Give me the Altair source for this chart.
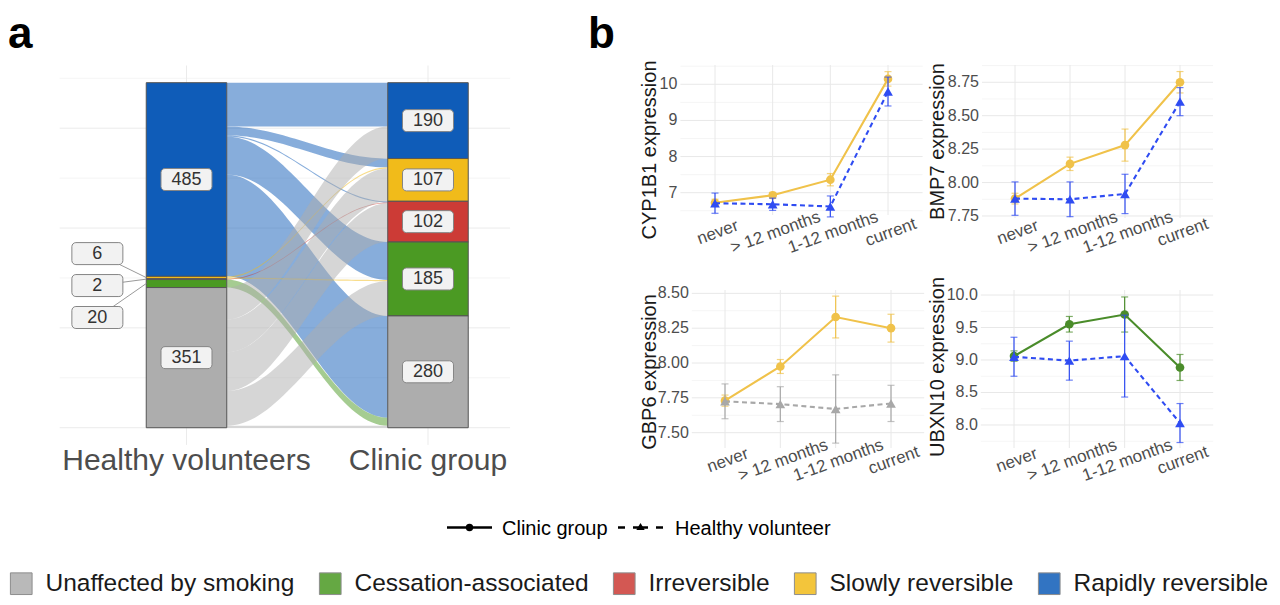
import math
import altair as alt
import numpy as np
import pandas as pd

FONT = "Liberation Sans"

# ---------------- data: panel a (alluvial) ----------------
categories = ["Unaffected by smoking", "Cessation-associated", "Irreversible",
              "Slowly reversible", "Rapidly reversible"]
category_colors = ["#adadad", "#4b9a23", "#cc3b36", "#f1bb1a", "#0f5cb8"]
stack_top_down = ["Rapidly reversible", "Slowly reversible", "Irreversible",
                  "Cessation-associated", "Unaffected by smoking"]
group_names = ["Healthy volunteers", "Clinic group"]
hv_counts = [351, 20, 2, 6, 485]
clinic_counts = [280, 185, 102, 107, 190]

flow_source = (["Rapidly reversible"] * 5 + ["Slowly reversible"] * 2 + ["Irreversible"]
               + ["Cessation-associated"] + ["Unaffected by smoking"] * 5)
flow_target = ["Rapidly reversible", "Slowly reversible", "Irreversible", "Cessation-associated", "Unaffected by smoking",
               "Slowly reversible", "Cessation-associated",
               "Irreversible",
               "Unaffected by smoking",
               "Rapidly reversible", "Slowly reversible", "Irreversible", "Cessation-associated", "Unaffected by smoking"]
flow_value = [110, 22, 3, 95, 255, 3, 3, 2, 20, 80, 82, 97, 87, 5]

# ---------------- data: panel b (expression) ----------------
stages = ["never", "> 12 months", "1-12 months", "current"]
genes = ["CYP1B1", "BMP7", "GBP6", "UBXN10"]
cyp1b1_clinic = [6.72, 6.93, 7.36, 10.15]
cyp1b1_clinic_se = [0.10, 0.08, 0.17, 0.20]
cyp1b1_hv = [6.71, 6.68, 6.62, 9.80]
cyp1b1_hv_se = [0.28, 0.17, 0.29, 0.40]
bmp7_clinic = [7.88, 8.14, 8.28, 8.75]
bmp7_clinic_se = [0.04, 0.05, 0.12, 0.08]
bmp7_hv = [7.88, 7.875, 7.915, 8.605]
bmp7_hv_se = [0.125, 0.13, 0.147, 0.105]
gbp6_clinic = [7.73, 7.975, 8.33, 8.25]
gbp6_clinic_se = [0.04, 0.05, 0.15, 0.10]
gbp6_hv = [7.725, 7.705, 7.67, 7.71]
gbp6_hv_se = [0.125, 0.125, 0.245, 0.13]
ubxn10_clinic = [9.06, 9.55, 9.70, 8.885]
ubxn10_clinic_se = [0.08, 0.12, 0.27, 0.20]
ubxn10_hv = [9.05, 8.99, 9.06, 8.03]
ubxn10_hv_se = [0.30, 0.30, 0.63, 0.30]
gene_clinic_class = ["Slowly reversible", "Slowly reversible", "Slowly reversible", "Cessation-associated"]
gene_hv_class = ["Rapidly reversible", "Rapidly reversible", "Unaffected by smoking", "Rapidly reversible"]
line_colors = {"Slowly reversible": "#f0c24a", "Cessation-associated": "#4a8c2a",
               "Rapidly reversible": "#2f4cf2", "Unaffected by smoking": "#a8a8a8"}
legend_groups = ["Clinic group", "Healthy volunteer"]

one_row = pd.DataFrame({"_": [0]})

# ================= panel a =================
STRATUM_W = 1 / 3
XA = alt.Scale(domain=[0.475, 2.34], range=[51.7, 502.1], zero=False, nice=False)
YA = alt.Scale(domain=[-43, 907], range=[436.9, 57.5], zero=False, nice=False)
color_scale = alt.Scale(domain=categories, range=category_colors)
fill_legend = alt.Legend(
    orient="none", legendX=1, legendY=563, direction="horizontal", columns=5, title=None,
    symbolType="square", symbolSize=470, symbolStrokeColor="#7a7a7a", symbolStrokeWidth=1,
    symbolOpacity=0.85, labelFont=FONT, labelFontSize=24.5, labelColor="#1a1a1a",
    labelOffset=12, columnPadding=22, labelLimit=500)
rank = {c: i for i, c in enumerate(stack_top_down)}


def stratum_ranges(counts):
    cmap = dict(zip(categories, counts))
    top = sum(counts)
    res = {}
    for c in stack_top_down:
        res[c] = (top - cmap[c], top)
        top -= cmap[c]
    return res


left_r = stratum_ranges(hv_counts)
right_r = stratum_ranges(clinic_counts)
flows = list(zip(flow_source, flow_target, flow_value))

left_pos, right_pos = {}, {}
for c in stack_top_down:
    top = left_r[c][1]
    for s, t, v in sorted([f for f in flows if f[0] == c], key=lambda f: rank[f[1]]):
        left_pos[(s, t)] = (top - v, top)
        top -= v
    top = right_r[c][1]
    for s, t, v in sorted([f for f in flows if f[1] == c], key=lambda f: rank[f[0]]):
        right_pos[(s, t)] = (top - v, top)
        top -= v

x0f, x1f = 1 + STRATUM_W / 2, 2 - STRATUM_W / 2
rows = []
for k, (s, t, v) in enumerate(flows):
    lb, lt = left_pos[(s, t)]
    rb, rt = right_pos[(s, t)]
    for tt in np.linspace(0, 1, 41):
        w = (1 - math.cos(math.pi * tt)) / 2
        rows.append({"flow": k, "cat": s, "x": x0f + (x1f - x0f) * tt,
                     "ylo": lb + (rb - lb) * w, "yhi": lt + (rt - lt) * w})
flow_df = pd.DataFrame(rows)

strata_rows = []
for ai, rr in enumerate([left_r, right_r]):
    for c in stack_top_down:
        lo, hi = rr[c]
        strata_rows.append({"cat": c, "x0": ai + 1 - STRATUM_W / 2, "x1": ai + 1 + STRATUM_W / 2,
                            "y0": lo, "y1": hi, "n": hi - lo, "axis": ai})
strata_df = pd.DataFrame(strata_rows)

# labels (small strata on the left are repelled to the side)
lab_rows, conn_rows = [], []
small = strata_df[(strata_df.n < 30) & (strata_df.axis == 0)]
small_center = (small.y0.min() + small.y1.max()) / 2 - 9
REPEL_X = 1 - 0.369
REPEL_GAP = 80
k = 0
for _, r in strata_df.iterrows():
    cy = (r.y0 + r.y1) / 2
    if r.n < 30:
        ly = small_center + REPEL_GAP * (1 - k)
        k += 1
        lab_rows.append({"x": REPEL_X, "y": ly, "label": str(int(r.n))})
        conn_rows.append({"x": REPEL_X, "x2": r.x0, "y": ly, "y2": cy})
    else:
        lab_rows.append({"x": (r.x0 + r.x1) / 2, "y": cy, "label": str(int(r.n))})
lab_df = pd.DataFrame(lab_rows)
conn_df = pd.DataFrame(conn_rows)

ga_major = pd.DataFrame({"y": [0, 250, 500, 750], "x0": 0.475, "x1": 2.34})
ga_minor = pd.DataFrame({"y": [125, 375, 625, 875], "x0": 0.475, "x1": 2.34})
ga_vert = pd.DataFrame({"x": [1, 2], "y0": -43, "y1": 907})
axis_lab_df = pd.DataFrame({"x": [1, 2], "name": group_names})

A_X = lambda f: alt.X(f, scale=XA, axis=None)
A_Y = lambda f: alt.Y(f, scale=YA, axis=None)

sankey = alt.layer(
    alt.Chart(ga_minor).mark_rule(color="#efefef", strokeWidth=0.7).encode(x=A_X("x0:Q"), x2="x1:Q", y=A_Y("y:Q")),
    alt.Chart(ga_major).mark_rule(color="#ebebeb", strokeWidth=1).encode(x=A_X("x0:Q"), x2="x1:Q", y=A_Y("y:Q")),
    alt.Chart(ga_vert).mark_rule(color="#ebebeb", strokeWidth=1).encode(x=A_X("x:Q"), y=A_Y("y0:Q"), y2="y1:Q"),
    alt.Chart(flow_df).mark_area(opacity=0.5, interpolate="linear").encode(
        x=A_X("x:Q"), y=A_Y("ylo:Q"), y2="yhi:Q",
        color=alt.Color("cat:N", scale=color_scale, legend=fill_legend), detail="flow:N"),
    alt.Chart(strata_df).mark_rect(stroke="#555555", strokeWidth=1).encode(
        x=A_X("x0:Q"), x2="x1:Q", y=A_Y("y0:Q"), y2="y1:Q",
        color=alt.Color("cat:N", scale=color_scale, legend=fill_legend)),
    alt.Chart(conn_df).mark_rule(color="#9a9a9a", strokeWidth=1).encode(
        x=A_X("x:Q"), x2="x2:Q", y=A_Y("y:Q"), y2="y2:Q"),
    alt.Chart(lab_df).mark_rect(width=51, height=22, cornerRadius=4, fill="#f2f2f2",
                                stroke="#858585", strokeWidth=1).encode(x=A_X("x:Q"), y=A_Y("y:Q")),
    alt.Chart(lab_df).mark_text(font=FONT, fontSize=18, color="#333333", baseline="middle").encode(
        x=A_X("x:Q"), y=A_Y("y:Q"), text="label:N"),
    alt.Chart(axis_lab_df).mark_text(font=FONT, fontSize=30, color="#4d4d4d", baseline="alphabetic").encode(
        x=A_X("x:Q"), y=alt.value(462), text="name:N"),
    alt.Chart(one_row).mark_text(font=FONT, fontSize=44, fontWeight="bold", align="left",
                                 baseline="alphabetic", color="#000000").encode(
        x=alt.value(0), y=alt.value(40), text=alt.value("a")),
    alt.Chart(one_row).mark_text(font=FONT, fontSize=44, fontWeight="bold", align="left",
                                 baseline="alphabetic", color="#000000").encode(
        x=alt.value(580), y=alt.value(40), text=alt.value("b")),
)

# ================= panel b =================
X_DOMAIN = [0.4, 4.6]
geoms = [
    dict(xr=[672.4, 914.6], yr=[207, 57], yd=[6.383, 10.534], ticks=[7, 8, 9, 10], fmt="{:.0f}",
         xlab_y=225.5, title_x=648, title_y=142),
    dict(xr=[974, 1205], yr=[210, 57], yd=[7.735, 8.879], ticks=[7.75, 8.0, 8.25, 8.5, 8.75], fmt="{:.2f}",
         xlab_y=225.5, title_x=936, title_y=133.5),
    dict(xr=[683.8, 916.2], yr=[440, 282], yd=[7.39, 8.524], ticks=[7.5, 7.75, 8.0, 8.25, 8.5], fmt="{:.2f}",
         xlab_y=453.5, title_x=648, title_y=364),
    dict(xr=[972.8, 1205.2], yr=[440, 282], yd=[7.646, 10.077], ticks=[8.0, 8.5, 9.0, 9.5, 10.0], fmt="{:.1f}",
         xlab_y=453.5, title_x=936, title_y=359),
]


def line_panel(gene, cm, cse, hm, hse, ccol, hcol, g):
    xs = alt.Scale(domain=X_DOMAIN, range=g["xr"], zero=False, nice=False)
    ys = alt.Scale(domain=g["yd"], range=g["yr"], zero=False, nice=False)
    PX = lambda f: alt.X(f, scale=xs, axis=None)
    PY = lambda f: alt.Y(f, scale=ys, axis=None)
    ticks = g["ticks"]
    step = ticks[1] - ticks[0]
    minors = [t - step / 2 for t in ticks] + [ticks[-1] + step / 2]
    minors = [m for m in minors if g["yd"][0] <= m <= g["yd"][1]]
    major_df = pd.DataFrame({"y": ticks, "x0": X_DOMAIN[0], "x1": X_DOMAIN[1],
                             "label": [g["fmt"].format(t) for t in ticks]})
    minor_df = pd.DataFrame({"y": minors, "x0": X_DOMAIN[0], "x1": X_DOMAIN[1]})
    st_df = pd.DataFrame({"idx": list(range(1, len(stages) + 1)), "stage": stages,
                          "y0": g["yd"][0], "y1": g["yd"][1]})

    def series(m, se):
        return pd.DataFrame({"idx": list(range(1, len(stages) + 1)), "mean": m,
                             "lo": [a - b for a, b in zip(m, se)], "hi": [a + b for a, b in zip(m, se)]})

    cdf = series(cm, cse)
    hdf = series(hm, hse)

    def group_layers(df, col, dash, shape, size):
        line_kw = dict(color=col, strokeWidth=2.1)
        if dash:
            line_kw["strokeDash"] = [5, 3.5]
        return [
            alt.Chart(df).mark_rule(color=col, strokeWidth=1.2).encode(x=PX("idx:Q"), y=PY("lo:Q"), y2="hi:Q"),
            alt.Chart(df).mark_tick(color=col, orient="horizontal", size=7, thickness=1.2).encode(
                x=PX("idx:Q"), y=PY("lo:Q")),
            alt.Chart(df).mark_tick(color=col, orient="horizontal", size=7, thickness=1.2).encode(
                x=PX("idx:Q"), y=PY("hi:Q")),
            alt.Chart(df).mark_line(**line_kw).encode(x=PX("idx:Q"), y=PY("mean:Q")),
            alt.Chart(df).mark_point(filled=True, opacity=1, shape=shape, size=size, color=col).encode(
                x=PX("idx:Q"), y=PY("mean:Q")),
        ]

    layers = [
        alt.Chart(minor_df).mark_rule(color="#f2f2f2", strokeWidth=0.8).encode(x=PX("x0:Q"), x2="x1:Q", y=PY("y:Q")),
        alt.Chart(major_df).mark_rule(color="#e8e8e8", strokeWidth=1).encode(x=PX("x0:Q"), x2="x1:Q", y=PY("y:Q")),
        alt.Chart(st_df).mark_rule(color="#e8e8e8", strokeWidth=1).encode(x=PX("idx:Q"), y=PY("y0:Q"), y2="y1:Q"),
        alt.Chart(major_df).mark_text(font=FONT, fontSize=16, color="#4d4d4d", align="right",
                                      baseline="middle", dx=-3).encode(x=PX("x0:Q"), y=PY("y:Q"), text="label:N"),
        alt.Chart(st_df).mark_text(font=FONT, fontSize=17, color="#4d4d4d", align="center",
                                   baseline="middle", angle=340, dx=3).encode(
            x=PX("idx:Q"), y=alt.value(g["xlab_y"]), text="stage:N"),
        alt.Chart(one_row).mark_text(font=FONT, fontSize=20, color="#1a1a1a", align="center",
                                     baseline="alphabetic", angle=270).encode(
            x=alt.value(g["title_x"]), y=alt.value(g["title_y"]), text=alt.value(gene + " expression")),
    ]
    layers += group_layers(cdf, ccol, False, "circle", 75)
    layers += group_layers(hdf, hcol, True, "triangle-up", 95)
    return alt.layer(*layers)


gene_series = [
    (cyp1b1_clinic, cyp1b1_clinic_se, cyp1b1_hv, cyp1b1_hv_se),
    (bmp7_clinic, bmp7_clinic_se, bmp7_hv, bmp7_hv_se),
    (gbp6_clinic, gbp6_clinic_se, gbp6_hv, gbp6_hv_se),
    (ubxn10_clinic, ubxn10_clinic_se, ubxn10_hv, ubxn10_hv_se),
]
panels = []
for i, gname in enumerate(genes):
    cm, cse, hm, hse = gene_series[i]
    panels.append(line_panel(gname, cm, cse, hm, hse,
                             line_colors[gene_clinic_class[i]], line_colors[gene_hv_class[i]], geoms[i]))

# ================= line legend =================
LEG_Y = 519.5
legend_layers = [
    alt.Chart(one_row).mark_rule(color="#000000", strokeWidth=2.5).encode(
        x=alt.value(439), x2=alt.value(484), y=alt.value(LEG_Y)),
    alt.Chart(one_row).mark_point(filled=True, opacity=1, shape="circle", size=55, color="#000000").encode(
        x=alt.value(461.5), y=alt.value(LEG_Y)),
    alt.Chart(one_row).mark_text(font=FONT, fontSize=20, color="#000000", align="left", baseline="alphabetic").encode(
        x=alt.value(494), y=alt.value(527), text=alt.value(legend_groups[0])),
    alt.Chart(one_row).mark_rule(color="#000000", strokeWidth=2.5).encode(
        x=alt.value(610), x2=alt.value(617), y=alt.value(LEG_Y)),
    alt.Chart(one_row).mark_rule(color="#000000", strokeWidth=2.5).encode(
        x=alt.value(625), x2=alt.value(640), y=alt.value(LEG_Y)),
    alt.Chart(one_row).mark_rule(color="#000000", strokeWidth=2.5).encode(
        x=alt.value(648), x2=alt.value(655), y=alt.value(LEG_Y)),
    alt.Chart(one_row).mark_point(filled=True, opacity=1, shape="triangle-up", size=70, color="#000000").encode(
        x=alt.value(632.5), y=alt.value(LEG_Y - 1)),
    alt.Chart(one_row).mark_text(font=FONT, fontSize=20, color="#000000", align="left", baseline="alphabetic").encode(
        x=alt.value(667), y=alt.value(527), text=alt.value(legend_groups[1])),
]
line_legend = alt.layer(*legend_layers)

chart = alt.layer(sankey, *panels, line_legend).resolve_scale(
    x="independent", y="independent", color="independent"
).properties(
    width=1264, height=589, padding=0, autosize=alt.AutoSizeParams(type="none")
).configure_view(stroke=None)

chart.save("out.html", embed_options={"renderer": "svg", "actions": False})
